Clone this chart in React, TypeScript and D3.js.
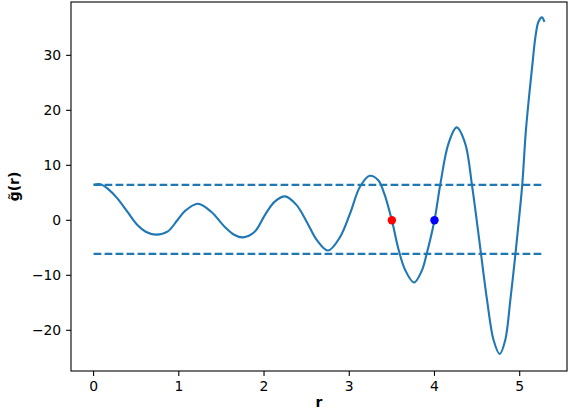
import * as d3 from 'd3'
import React from 'react'

// curve (r, g~(r))
const rValues = [0, 0.06, 0.1, 0.162, 0.279, 0.396, 0.514, 0.612, 0.73, 0.867, 0.985, 1.08, 1.224, 1.38, 1.54, 1.655, 1.753, 1.89, 2.01, 2.126, 2.25, 2.38, 2.5, 2.62, 2.75, 2.89, 3.01, 3.126, 3.24, 3.34, 3.41, 3.5, 3.58, 3.655, 3.76, 3.85, 3.91, 4.0, 4.07, 4.165, 4.26, 4.36, 4.44, 4.5, 4.546, 4.617, 4.694, 4.765, 4.83, 4.89, 4.95, 4.99, 5.03, 5.07, 5.106, 5.146, 5.185, 5.22, 5.26, 5.29]
const gValues = [6.45, 6.6, 6.45, 5.8, 4.0, 1.56, -0.85, -2.07, -2.6, -2.07, 0.05, 1.8, 3.0, 1.56, -1.2, -2.67, -3.1, -2.07, 0.96, 3.4, 4.35, 2.8, -0.25, -3.6, -5.5, -3.1, 1.27, 6.1, 8.1, 7.3, 4.9, 0, -5.4, -9.0, -11.3, -9.2, -6.0, 0, 6.7, 14.0, 16.9, 14.0, 6.4, -0.55, -6.1, -14.5, -21.8, -24.3, -21.8, -14.5, -6.1, 0, 6.5, 15.8, 21.9, 27.9, 33.4, 36.1, 36.9, 36.1]

// horizontal dashed bounds
const boundLevels = [6.45, -6.1]
const boundRange = [0, 5.29]

// marked points
const markR = [3.5, 4.0]
const markG = [0, 0]
const markColors = ['red', 'blue']

const xTicks = [0, 1, 2, 3, 4, 5]
const yTicks = [-20, -10, 0, 10, 20, 30]

export default function App() {
    const width = 570, height = 410
    const margin = {top: 2, right: 3, bottom: 39, left: 71}
    const x = d3.scaleLinear().domain([-0.265, 5.555]).range([margin.left, width - margin.right])
    const y = d3.scaleLinear().domain([-27.4, 39.7]).range([height - margin.bottom, margin.top])

    const pts: [number, number][] = rValues.map((r, i) => [r, gValues[i]])
    const line = d3.line<[number, number]>()
        .x(d => x(d[0]))
        .y(d => y(d[1]))
        .curve(d3.curveCatmullRom.alpha(0.5))

    const font = 'DejaVu Sans'
    const fmt = (v: number) => (v < 0 ? '\u2212' + Math.abs(v) : String(v))
    const x0 = margin.left, x1 = width - margin.right
    const y0 = margin.top, y1 = height - margin.bottom
    const blue = '#1f77b4'

    return (
        <svg width={width} height={height} style={{position: 'fixed', left: 0, top: 0, background: '#fff'}}
             fontFamily={font}>
            {boundLevels.map((b, i) =>
                <line key={'b' + i} x1={x(boundRange[0])} x2={x(boundRange[1])} y1={y(b)} y2={y(b)}
                      stroke={blue} strokeWidth={2.1} strokeDasharray="7.7 3.3" />
            )}
            <path d={line(pts) || ''} fill="none" stroke={blue} strokeWidth={2.1} strokeLinejoin="round" strokeLinecap="butt" />
            {markR.map((r, i) =>
                <circle key={'m' + i} cx={x(r)} cy={y(markG[i])} r={4.2} fill={markColors[i]} />
            )}
            <rect x={x0} y={y0} width={x1 - x0} height={y1 - y0} fill="none" stroke="#000" strokeWidth={1.1} />
            {xTicks.map(t =>
                <g key={'x' + t} transform={`translate(${x(t)},${y1})`}>
                    <line y2={4.9} stroke="#000" strokeWidth={1.1} />
                    <text y={19.5} textAnchor="middle" fontSize={13.9}>{fmt(t)}</text>
                </g>
            )}
            {yTicks.map(t =>
                <g key={'y' + t} transform={`translate(${x0},${y(t)})`}>
                    <line x2={-4.9} stroke="#000" strokeWidth={1.1} />
                    <text x={-9.8} dy="0.36em" textAnchor="end" fontSize={13.9}>{fmt(t)}</text>
                </g>
            )}
            <text x={(x0 + x1) / 2} y={407} textAnchor="middle" fontSize={13.9} fontWeight="bold">r</text>
            <text transform={`translate(19,${(y0 + y1) / 2}) rotate(-90)`} textAnchor="middle" fontSize={13.9}
                  fontWeight="bold">{'g\u0303(r)'}</text>
        </svg>
    )
}
